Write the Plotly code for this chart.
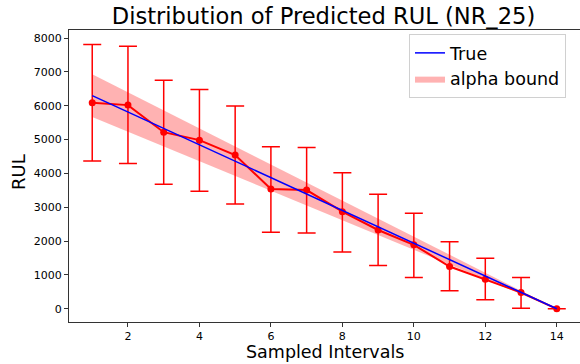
import plotly.graph_objects as go

intervals = [1, 2, 3, 4, 5, 6, 7, 8, 9, 10, 11, 12, 13, 14]
true_rul = [6300, 5815, 5330, 4845, 4360, 3875, 3390, 2905, 2420, 1940, 1455, 970, 485, 0]
band_upper = [6930, 6397, 5863, 5330, 4796, 4263, 3729, 3196, 2662, 2134, 1601, 1067, 534, 0]
band_lower = [5670, 5234, 4797, 4361, 3924, 3488, 3051, 2615, 2178, 1746, 1310, 873, 437, 0]
pred_mean = [6090, 6020, 5220, 4985, 4545, 3540, 3510, 2870, 2330, 1890, 1250, 876, 481, 0]
pred_upper = [7810, 7760, 6755, 6480, 5997, 4788, 4770, 4021, 3383, 2823, 1985, 1496, 923, 0]
pred_lower = [4366, 4298, 3678, 3472, 3097, 2262, 2242, 1681, 1277, 923, 531, 265, 20, 0]

err_plus = [u - m for u, m in zip(pred_upper, pred_mean)]
err_minus = [m - l for m, l in zip(pred_mean, pred_lower)]

FONT = "DejaVu Sans"
L, R, T, B, W, H = 69, 0, 30, 42, 580, 364
PW, PH = W - L - R, H - T - B

fig = go.Figure()
fig.add_trace(go.Scatter(x=intervals, y=band_lower, mode="lines", line=dict(width=0),
                         showlegend=False, hoverinfo="skip"))
fig.add_trace(go.Scatter(x=intervals, y=band_upper, mode="lines", line=dict(width=0),
                         fill="tonexty", fillcolor="rgba(255,0,0,0.3)", name="alpha bound",
                         legendrank=2))
fig.add_trace(go.Scatter(x=intervals, y=pred_mean, mode="lines+markers",
                         line=dict(color="red", width=2), marker=dict(color="red", size=7),
                         error_y=dict(type="data", array=err_plus, arrayminus=err_minus,
                                      color="red", thickness=1.5, width=9),
                         showlegend=False))
fig.add_trace(go.Scatter(x=intervals, y=true_rul, mode="lines", line=dict(color="blue", width=1.5),
                         name="True", legendrank=1))

fig.update_layout(
    width=W, height=H,
    margin=dict(l=L, r=R, t=T, b=B),
    paper_bgcolor="white", plot_bgcolor="white",
    font=dict(family=FONT, color="black"),
    title=dict(text="Distribution of Predicted RUL (NR_25)", font=dict(size=22.6, family=FONT),
               x=(323.5 - L) / PW, xref="paper", xanchor="center",
               y=1 - 16 / H, yref="container", yanchor="middle"),
    legend=dict(x=(409 - L) / PW, y=1 - 4 / PH, xanchor="left", yanchor="top",
                traceorder="normal",
                bgcolor="rgba(255,255,255,0.8)", bordercolor="#d0d0d0", borderwidth=1,
                font=dict(size=17.5, family=FONT)),
    showlegend=True,
    annotations=[
        dict(text="Sampled Intervals", xref="paper", yref="paper",
             x=(324.5 - L) / PW, y=-(351.5 - (T + PH)) / PH,
             xanchor="center", yanchor="middle", showarrow=False, font=dict(size=17.5, family=FONT)),
        dict(text="RUL", xref="paper", yref="paper", textangle=-90,
             x=(19 - L) / PW, y=(T + PH - 172) / PH,
             xanchor="center", yanchor="middle", showarrow=False, font=dict(size=18, family=FONT)),
    ],
)
fig.update_xaxes(range=[0.35, 14.65], tickvals=[2, 4, 6, 8, 10, 12, 14],
                 showgrid=False, zeroline=False, showline=True, linecolor="#333", linewidth=1,
                 mirror=True, ticks="outside", ticklen=4, tickcolor="#333",
                 tickfont=dict(size=11))
fig.update_yaxes(range=[-390, 8240], tickvals=[0, 1000, 2000, 3000, 4000, 5000, 6000, 7000, 8000],
                 showgrid=False, zeroline=False, showline=True, linecolor="#333", linewidth=1,
                 ticks="outside", ticklen=4, tickcolor="#333",
                 tickfont=dict(size=11))

fig.write_html("out.html")
